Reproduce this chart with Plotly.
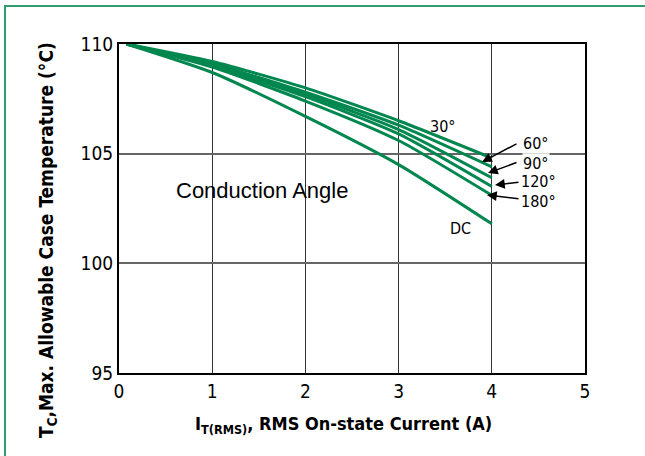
import plotly.graph_objects as go

current = [0.08, 1, 2, 3, 4]
t_30 = [110, 109.2, 108.0, 106.5, 104.8]
t_60 = [110, 109.1, 107.8, 106.3, 104.4]
t_90 = [110, 109.05, 107.7, 106.1, 103.9]
t_120 = [110, 109.0, 107.6, 105.9, 103.5]
t_180 = [110, 108.95, 107.4, 105.6, 103.1]
t_dc = [110, 108.7, 106.7, 104.5, 101.8]
series = [("30°", t_30), ("60°", t_60), ("90°", t_90), ("120°", t_120), ("180°", t_180), ("DC", t_dc)]

x_ticks = [0, 1, 2, 3, 4, 5]
y_ticks = [95, 100, 105, 110]

GREEN = "#00874f"
NARROW = "DejaVu Sans Condensed, Liberation Sans Narrow, Arial Narrow, sans-serif"

W, H = 645, 456
L, R, T, B = 119, 60, 44, 83
pw, ph = W - L - R, H - T - B

def px(xp):
    return (xp - L) / pw

def py(yp):
    return (H - B - yp) / ph

fig = go.Figure()
for name, ys in series:
    fig.add_trace(go.Scatter(x=current, y=ys, mode="lines", name=name,
                             line=dict(color=GREEN, width=3, shape="spline", smoothing=0.6),
                             showlegend=False, hoverinfo="skip"))

ann = []
def lab(text, xp, yp, bg=None, size=16):
    d = dict(text=text, x=px(xp), y=py(yp), xref="paper", yref="paper", showarrow=False,
             font=dict(family=NARROW, size=size, color="black"), xanchor="center", yanchor="middle",
             borderpad=0)
    if bg:
        d["bgcolor"] = bg
    ann.append(d)

lab("30°", 443, 127)
lab("60°", 536, 143, bg="white")
lab("90°", 536, 163, bg="white")
lab("120°", 538, 181)
lab("180°", 538, 201)
lab("DC", 460, 229)
ann.append(dict(text="Conduction Angle", x=px(262), y=py(190), xref="paper", yref="paper",
                xanchor="center", yanchor="middle",
                showarrow=False, font=dict(family="Liberation Sans, Arial, sans-serif", size=22, color="black")))

arrows = [((518, 143), (482, 162)), ((518, 162), (488, 173)), ((520, 182), (495, 185)), ((520, 199), (487, 195))]
for (tx, ty), (hx, hy) in arrows:
    ann.append(dict(x=px(hx), y=py(hy), ax=tx - hx, ay=ty - hy, xref="paper", yref="paper",
                    axref="pixel", ayref="pixel", text="", showarrow=True, arrowhead=2,
                    arrowsize=1.3, arrowwidth=1.5, arrowcolor="black"))

ann.append(dict(text="<b>I<sub>T(RMS)</sub>, RMS On-state Current (A)</b>", x=px(343), y=py(425),
                xref="paper", yref="paper", showarrow=False, xanchor="center", yanchor="middle",
                font=dict(family=NARROW, size=18, color="black")))
ann.append(dict(text="<b>T<sub>C</sub>,Max. Allowable Case Temperature (°C)</b>", x=px(47), y=py(240),
                xref="paper", yref="paper", showarrow=False, textangle=-90,
                xanchor="center", yanchor="middle",
                font=dict(family=NARROW, size=19, color="black")))

shapes = [
    dict(type="rect", xref="paper", yref="paper", x0=px(5), x1=px(700), y0=py(6), y1=py(520),
         line=dict(color="#2e9e6e", width=2), fillcolor="rgba(0,0,0,0)", layer="above"),
]

fig.update_layout(
    width=W, height=H, margin=dict(l=L, r=R, t=T, b=B),
    paper_bgcolor="white", plot_bgcolor="white",
    annotations=ann, shapes=shapes,
    xaxis=dict(range=[0, 5], tickvals=x_ticks, showgrid=True, gridcolor="#333", gridwidth=1,
               showline=True, linecolor="black", linewidth=2, mirror=True, zeroline=False,
               ticks="", tickfont=dict(family=NARROW, size=19, color="black")),
    yaxis=dict(range=[95, 110], tickvals=y_ticks, showgrid=True, gridcolor="#666", gridwidth=2,
               showline=True, linecolor="black", linewidth=2, mirror=True, zeroline=False,
               ticks="", tickfont=dict(family=NARROW, size=19, color="black")),
)

fig.write_html("out.html", config={"displayModeBar": False},
               post_script="document.body.style.margin='0';")
